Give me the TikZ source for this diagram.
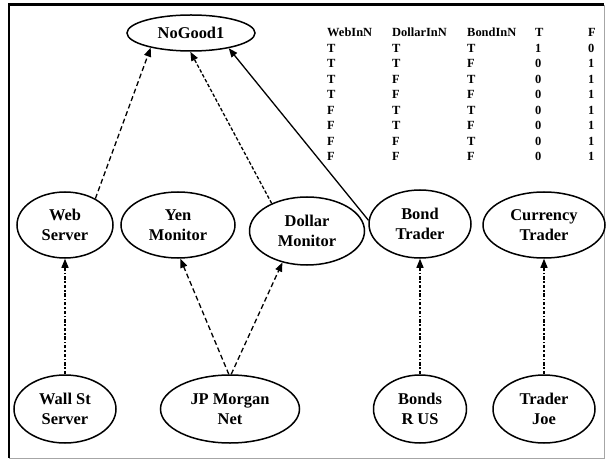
\documentclass[tikz,border=0pt]{standalone}
\usepackage{fontspec}
\setmainfont{Liberation Serif}
\usetikzlibrary{shapes.geometric,arrows.meta}
\begin{document}
\begin{tikzpicture}[x=1bp,y=-1bp,
  var/.style={ellipse,draw,line width=1.5bp,inner sep=0pt,align=center,
    font=\fontsize{16.5}{19.5}\selectfont\bfseries},
  link/.style={line width=1.3bp,-{Triangle[length=9bp,width=7bp]}},
  longdash/.style={link,dash pattern=on 5bp off 3bp},
  shortdash/.style={link,dash pattern=on 3.5bp off 2bp},
  dashdot/.style={link,dash pattern=on 3.5bp off 1.8bp on 1.5bp off 1.8bp},
]
\useasboundingbox (0,0) rectangle (607,462);
\fill[white] (0,0) rectangle (607,462);

% frame
\draw[gray!70,line width=0.8bp] (9,5) rectangle (604,458);
\draw[line width=3bp] (8,5) -- (604,5);
\draw[line width=2bp] (9,5) -- (9,458);

% conditional probability table
\node[anchor=north west,inner sep=0pt,font=\fontsize{12.5}{15.6}\selectfont\bfseries] (cpt) at (327,25.5)
 {\begin{tabular}{@{}p{65bp}@{}p{75bp}@{}p{68bp}@{}p{53bp}@{}l@{}}
  WebInN & DollarInN & BondInN & T & F\\
  T & T & T & 1 & 0\\
  T & T & F & 0 & 1\\
  T & F & T & 0 & 1\\
  T & F & F & 0 & 1\\
  F & T & T & 0 & 1\\
  F & T & F & 0 & 1\\
  F & F & T & 0 & 1\\
  F & F & F & 0 & 1
 \end{tabular}};

% nodes
\node[var,minimum width=128bp,minimum height=36bp] (ng) at (191,33) {NoGood1};
\node[var,minimum width=96bp,minimum height=66bp] (web) at (65,225) {Web\\Server};
\node[var,minimum width=114bp,minimum height=66bp] (yen) at (178,225) {Yen\\Monitor};
\node[var,minimum width=115bp,minimum height=68bp] (dollar) at (307,231) {Dollar\\Monitor};
\node[var,minimum width=102bp,minimum height=68bp] (bond) at (420,224) {Bond\\Trader};
\node[var,minimum width=122bp,minimum height=66bp] (cur) at (544,225) {Currency\\Trader};
\node[var,minimum width=102bp,minimum height=68bp] (wall) at (65,409) {Wall St\\Server};
\node[var,minimum width=139bp,minimum height=68bp] (jp) at (230,409) {JP Morgan\\Net};
\node[var,minimum width=93bp,minimum height=68bp] (bonds) at (420,409) {Bonds\\R US};
\node[var,minimum width=102bp,minimum height=68bp] (joe) at (544,409) {Trader\\Joe};

% connectors
\draw[longdash] (web.41) -- (ng.200);
\draw[shortdash] (dollar.142) -- (ng.268);
\draw[link] (bond.176) -- (ng.338);
\draw[dashdot] (wall.north) -- (web.south);
\draw[longdash] (jp.92) -- (yen.274);
\draw[longdash] (jp.88) -- (dollar.232);
\draw[dashdot] (bonds.north) -- (bond.south);
\draw[dashdot] (joe.north) -- (cur.south);
\end{tikzpicture}
\end{document}
